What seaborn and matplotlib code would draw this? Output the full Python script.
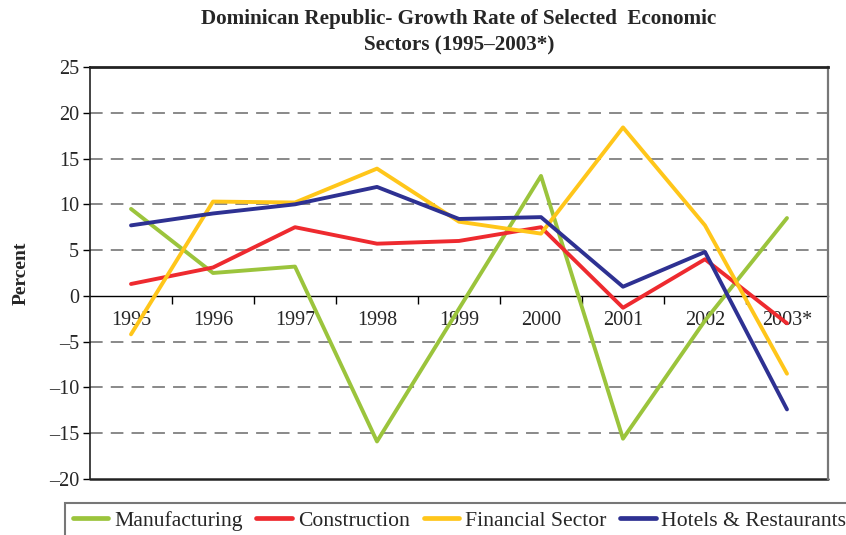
import matplotlib
matplotlib.use("Agg")
from matplotlib import pyplot as plt
import pandas as pd
import seaborn as sns

years = ["1995", "1996", "1997", "1998", "1999", "2000", "2001", "2002", "2003*"]
manufacturing = [9.5, 2.5, 3.2, -15.9, -1.4, 13.1, -15.6, -2.7, 8.5]
construction = [1.3, 3.1, 7.5, 5.7, 6.0, 7.5, -1.3, 4.0, -3.0]
financial = [-4.2, 10.3, 10.2, 13.9, 8.1, 6.8, 18.4, 7.7, -8.5]
hotels = [7.7, 9.0, 10.0, 11.9, 8.4, 8.6, 1.0, 4.8, -12.4]

series = {
    "Manufacturing": manufacturing,
    "Construction": construction,
    "Financial Sector": financial,
    "Hotels & Restaurants": hotels,
}
colors = ["#9BC43C", "#EE2A2F", "#FFC61A", "#2E3192"]

rows = []
for name, vals in series.items():
    for i, v in enumerate(vals):
        rows.append({"pos": i, "sector": name, "value": v})
df = pd.DataFrame(rows)

sns.set_theme(style="white")
plt.rcParams["font.family"] = ["Liberation Serif", "DejaVu Serif"]

fig = plt.figure(figsize=(8.46, 5.35), dpi=100)
ax = fig.add_axes([0.1064, 0.1047, 0.8723, 0.7701])

sns.lineplot(data=df, x="pos", y="value", hue="sector", palette=colors,
             sort=False, linewidth=2.8, ax=ax, legend=True)

ax.set_xlim(-0.5, len(years) - 0.5)
ax.set_ylim(-20, 25)

# dashed grid at every 5 except 0 and the top
for y in [-15, -10, -5, 5, 10, 15, 20]:
    ax.axhline(y, color="#808080", lw=1.3, ls=(0, (7, 4.5)), zorder=0)

# x axis sits on zero
ax.spines["bottom"].set_position(("data", 0))
ax.spines["bottom"].set_color("black")
ax.spines["bottom"].set_linewidth(1.0)
ax.spines["bottom"].set_zorder(1)
ax.axhline(-20, color="#222222", lw=1.8, clip_on=False, zorder=1)
ax.spines["top"].set_color("#222222")
ax.spines["top"].set_linewidth(2.0)
ax.spines["left"].set_color("#222222")
ax.spines["left"].set_linewidth(1.2)
ax.spines["right"].set_color("#777777")
ax.spines["right"].set_linewidth(1.6)

ax.set_xticks([i + 0.5 for i in range(len(years) - 1)])
ax.set_xticklabels([])
ax.set_xticks(range(len(years)), minor=True)
ax.set_xticklabels(years, minor=True, fontsize=14.5)
ax.tick_params(axis="x", which="major", direction="out", length=6, width=1, color="black", bottom=True)
ax.tick_params(axis="x", which="minor", length=0, pad=11)

ax.set_yticks(range(-20, 26, 5))
ax.set_yticklabels([str(v).replace("-", "\u2013") for v in range(-20, 26, 5)], fontsize=14.5)
ax.tick_params(axis="y", direction="out", length=5, width=1, color="black", left=True, pad=3)

ax.set_xlabel("")
ax.set_ylabel("Percent", fontsize=14, fontweight="bold", labelpad=14)
ax.set_title("Dominican Republic- Growth Rate of Selected  Economic\nSectors (1995\u20132003*)",
             fontsize=15.2, fontweight="bold", pad=12, linespacing=1.45)

handles, labels = ax.get_legend_handles_labels()
ax.legend_.remove()
leg = fig.legend(handles, labels, loc="upper left", bbox_to_anchor=(0.077, 0.06),
                 ncol=4, fontsize=15.6, frameon=True, fancybox=False,
                 handlelength=1.65, handletextpad=0.25, columnspacing=0.65,
                 borderpad=0.35, borderaxespad=0, edgecolor="#555555")
leg.get_frame().set_linewidth(1.5)
for line in leg.get_lines():
    line.set_linewidth(3.4)

plt.savefig("out.png", dpi=100)
